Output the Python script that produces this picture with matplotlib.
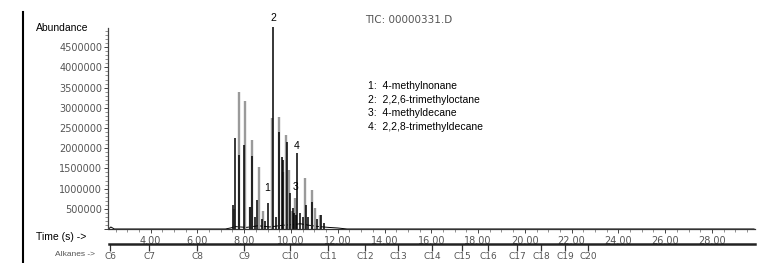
# -*- coding: utf-8 -*-
'''TIC chromatogram with alkane retention index scale'''
import matplotlib
matplotlib.use("Agg")
import matplotlib.pyplot as plt
from matplotlib.lines import Line2D
from matplotlib.ticker import MultipleLocator, FuncFormatter

# peaks of the black trace: retention time (min), abundance
black_t = [7.53, 7.62, 7.80, 8.00, 8.23, 8.32, 8.45, 8.57, 8.75, 8.90, 9.02, 9.23,
           9.35, 9.47, 9.61, 9.66, 9.82, 9.97, 10.08, 10.15, 10.20, 10.26, 10.40,
           10.50, 10.65, 10.75, 10.90, 11.10, 11.28, 11.40]
black_y = [590000, 2250000, 1830000, 2080000, 550000, 1810000, 300000, 720000, 250000,
           200000, 640000, 5000000, 300000, 2410000, 1770000, 1710000, 2160000, 890000,
           520000, 400000, 350000, 1870000, 400000, 300000, 590000, 300000, 680000,
           250000, 350000, 150000]

# peaks of the grey trace
grey_t = [7.55, 7.76, 8.04, 8.25, 8.35, 8.64, 8.81, 9.21, 9.50, 9.64, 9.78, 9.92,
          10.05, 10.18, 10.61, 10.92, 11.03, 11.25]
grey_y = [500000, 3400000, 3180000, 550000, 2200000, 1530000, 450000, 2740000,
          2780000, 1400000, 2330000, 1450000, 450000, 760000, 1250000, 970000,
          510000, 350000]

# baseline of the trace
base_t = [2.2, 2.3, 2.45, 7.2, 7.45, 7.6, 8.1, 8.6, 9.1, 9.6, 10.1, 10.4, 10.8, 11.2,
          11.6, 12.0, 12.4, 29.8]
base_y = [0, 50000, 0, 0, 30000, 60000, 40000, 80000, 50000, 90000, 110000,
          130000, 90000, 60000, 40000, 25000, 0, 0]

# labelled compounds
label_ids = ["1", "2", "3", "4"]
label_t = [9.02, 9.23, 9.97, 10.26]
label_y = [640000, 5000000, 890000, 1870000]
compounds = ["4-methylnonane", "2,2,6-trimethyloctane", "4-methyldecane",
             "2,2,8-trimethyldecane"]

# n-alkane retention times
alkane_names = ["C6", "C7", "C8", "C9", "C10", "C11", "C12", "C13", "C14", "C15",
                "C16", "C17", "C18", "C19", "C20"]
alkane_t = [2.27, 3.94, 5.99, 8.00, 9.97, 11.59, 13.17, 14.58, 16.03, 17.32, 18.43,
            19.67, 20.69, 21.72, 22.70]

W, H = 778, 263
fig = plt.figure(figsize=(W / 100, H / 100), dpi=100)

x0, x1 = 108.5, 755
ytop, ybot = 28, 229
ax = fig.add_axes([x0 / W, 1 - ybot / H, (x1 - x0) / W, (ybot - ytop) / H])
ax.set_xlim(2.2, 29.84)
ax.set_ylim(0, 4975000)

ax.plot(base_t, base_y, color="black", lw=0.7)
ax.vlines(grey_t, 0, grey_y, color="#9a9a9a", lw=1.7)
ax.vlines(black_t, 0, black_y, color="black", lw=1.1, clip_on=False)

# label offsets in points from the peak top
offsets = [(-0.5, 11), (0, 6.5), (3.5, 4), (0, 5.5)]
for lab, t, y, off in zip(label_ids, label_t, label_y, offsets):
    ax.annotate(lab, (t, y), xytext=off, textcoords="offset points",
                ha="center", va="center", fontsize=7.5, family="Liberation Sans",
                annotation_clip=False)

for s in ["top", "right"]:
    ax.spines[s].set_visible(False)
ax.spines["left"].set_color("#444444")
ax.spines["bottom"].set_color("#333333")
ax.spines["left"].set_linewidth(0.9)
ax.spines["bottom"].set_linewidth(0.9)

ax.yaxis.set_major_locator(MultipleLocator(500000))
ax.yaxis.set_minor_locator(MultipleLocator(100000))
ax.yaxis.set_major_formatter(FuncFormatter(lambda v, p: "" if v == 0 else "%d" % v))
ax.xaxis.set_major_locator(MultipleLocator(2))
ax.xaxis.set_minor_locator(MultipleLocator(0.5))
ax.xaxis.set_major_formatter(FuncFormatter(lambda v, p: "%.2f" % v if v >= 4 else ""))
ax.tick_params(axis="both", which="major", length=3, width=0.7, color="#444444",
               labelsize=7, labelcolor="#555555", pad=1.5)
ax.tick_params(axis="both", which="minor", length=2, width=0.5, color="#666666")
ax.tick_params(axis="x", pad=2)

# alkane scale below the time axis
ya = 244
ax2 = fig.add_axes([x0 / W, 1 - ya / H, (x1 - x0) / W, 0.001])
ax2.set_xlim(ax.get_xlim())
for s in ["top", "right", "left"]:
    ax2.spines[s].set_visible(False)
ax2.spines["bottom"].set_linewidth(1.8)
ax2.spines["bottom"].set_color("#222222")
ax2.set_yticks([])
ax2.set_xticks(alkane_t)
ax2.set_xticklabels(alkane_names)
ax2.tick_params(axis="x", length=5, width=0.9, color="#333333", labelsize=6.5,
                labelcolor="#555555", pad=1)

fig.text(36 / W, 1 - 28 / H, "Abundance", fontsize=7.5, family="Liberation Sans",
         va="center", ha="left")
fig.text(36 / W, 1 - 237 / H, "Time (s) ->", fontsize=7.5, family="Liberation Sans",
         va="center", ha="left")
fig.text(55 / W, 1 - 254 / H, "Alkanes ->", fontsize=6, family="Liberation Sans",
         color="#555555", va="center", ha="left")
fig.text(365 / W, 1 - 20 / H, "TIC: 00000331.D", fontsize=7.5, color="#555555",
         va="center", ha="left")

for i, (lab, name) in enumerate(zip(label_ids, compounds)):
    fig.text(368 / W, 1 - (86 + 13.7 * i) / H, lab + ":  " + name, fontsize=7.5,
             family="Liberation Sans", color="black", va="center", ha="left")

fig.add_artist(Line2D([23 / W, 23 / W], [0, 1 - 12 / H], color="black", lw=1.5))

fig.savefig("out.png", dpi=100)
